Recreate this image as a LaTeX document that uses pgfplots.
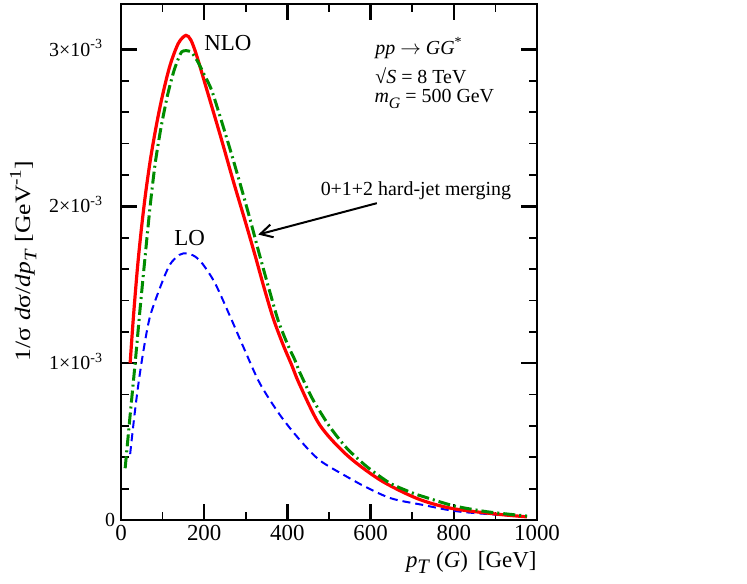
\documentclass[border=0pt]{standalone}
\usepackage{fontspec}
\setmainfont{Liberation Serif}
\usepackage{pgfplots}
\pgfplotsset{compat=1.18}
\usetikzlibrary{arrows.meta}
\definecolor{cred}{RGB}{255,0,0}
\definecolor{cgreen}{RGB}{0,140,0}
\definecolor{cblue}{RGB}{0,0,255}
\newcommand{\bigsub}[1]{\raisebox{-0.28em}{\scalebox{0.8}{#1}}}
\newcommand{\bigsup}[1]{\raisebox{0.42em}{\scalebox{0.75}{#1}}}
\begin{document}
\begin{tikzpicture}[font=\fontsize{20}{24}\selectfont]
\path[use as bounding box] (-121bp,-64bp) rectangle (626bp,520bp);
\begin{axis}[
  at={(0,0)}, anchor=south west,
  scale only axis, width=416bp, height=516bp,
  xmin=0, xmax=1000, ymin=0, ymax=3.29,
  xtick={0,200,...,1000}, minor x tick num=1,
  ytick={0,1,2,3},
  yticklabels={0\hspace*{-12.7bp},1×10\textsuperscript{-3},2×10\textsuperscript{-3},3×10\textsuperscript{-3}},
  minor y tick num=4,
  tick align=inside,
  major tick length=16bp, minor tick length=8bp,
  axis line style={line width=2.5bp},
  major tick style={line width=2.5bp, black},
  minor tick style={line width=1.8bp, black},
  /pgf/number format/assume math mode=true,
  /pgf/number format/1000 sep={},
  xticklabel style={font=\fontsize{23}{23}\selectfont, yshift=-2bp},
  yticklabel style={font=\fontsize{20}{20}\selectfont, anchor=base east, yshift=-6.6bp, xshift=-15bp},
  xlabel={\textit{p}\raisebox{-0.28em}{\scalebox{0.9}{\textit{T}}}\hspace{6bp}(\textit{G})\hspace{10bp}[GeV]},
  xlabel style={font=\fontsize{23}{23}\selectfont, at={(axis description cs:1,0)}, anchor=base east, yshift=-47bp, xshift=3bp},
  ylabel={\scalebox{1.17}[1]{1/σ \textit{d}σ/\textit{dp}\bigsub{\textit{T}} [GeV\bigsup{-1}]}},
  ylabel style={font=\fontsize{22}{22}\selectfont, at={(axis description cs:-0.235,0.502)}, anchor=center},
]
\addplot[cblue, line width=2bp, dash pattern=on 8bp off 5bp, smooth] coordinates {
(22,0.42)(32,0.66)(42,0.87)(54,1.08)(70,1.30)(98,1.51)(118,1.63)(140,1.69)(158,1.70)(178,1.68)(197,1.63)(226,1.51)(262,1.30)(298,1.08)(334,0.87)(382,0.67)(430,0.51)(478,0.38)(543,0.276)(574,0.23)(647,0.14)(726,0.096)(815,0.053)(976,0.02)
};
\addplot[cred, line width=3.2bp, smooth] coordinates {
(22,1.00)(30,1.30)(40,1.62)(50,1.88)(60,2.10)(72,2.32)(86,2.53)(100,2.71)(118,2.90)(138,3.04)(156,3.09)(168,3.06)(182,2.96)(210,2.71)(240,2.44)(270,2.16)(298,1.91)(322,1.69)(344,1.48)(366,1.285)(390,1.115)(410,0.99)(430,0.86)(478,0.605)(543,0.414)(623,0.255)(711,0.138)(791,0.076)(894,0.04)(976,0.02)
};
\addplot[cgreen, line width=3bp, dash pattern=on 12bp off 4bp on 2bp off 4bp, smooth, tension=0.4] coordinates {
(10,0.33)(22,0.67)(34,1.00)(46,1.35)(58,1.68)(70,2.0)(82,2.27)(96,2.50)(112,2.71)(128,2.87)(146,2.985)(168,2.985)(185,2.92)(200,2.84)(218,2.74)(242,2.54)(266,2.33)(290,2.11)(310,1.92)(330,1.72)(354,1.49)(378,1.27)(402,1.11)(418,1.02)(430,0.94)(462,0.764)(502,0.594)(543,0.457)(591,0.34)(647,0.234)(703,0.17)(727,0.149)(799,0.091)(879,0.053)(976,0.025)
};
\node[font=\fontsize{23}{23}\selectfont] at (axis cs:257,3.04) {NLO};
\node[font=\fontsize{23}{23}\selectfont] at (axis cs:165,1.80) {LO};
\node[anchor=base west, inner sep=0pt] at (axis cs:611,2.97) {\textit{pp} $\rightarrow$ \textit{GG}\textsuperscript{*}};
\node[anchor=base west, inner sep=0pt] at (axis cs:611,2.78) {√\textit{S} = 8 TeV};
\node[anchor=base west, inner sep=0pt] at (axis cs:609,2.66) {\textit{m}\bigsub{\textit{G}} = 500 GeV};
\node[anchor=base] at (axis cs:709,2.07) {0+1+2 hard-jet merging};
\draw[-{Straight Barb[length=12bp,width=13bp]}, line width=2bp] (axis cs:615,2.02) -- (axis cs:330,1.82);
\end{axis}
\end{tikzpicture}
\end{document}
